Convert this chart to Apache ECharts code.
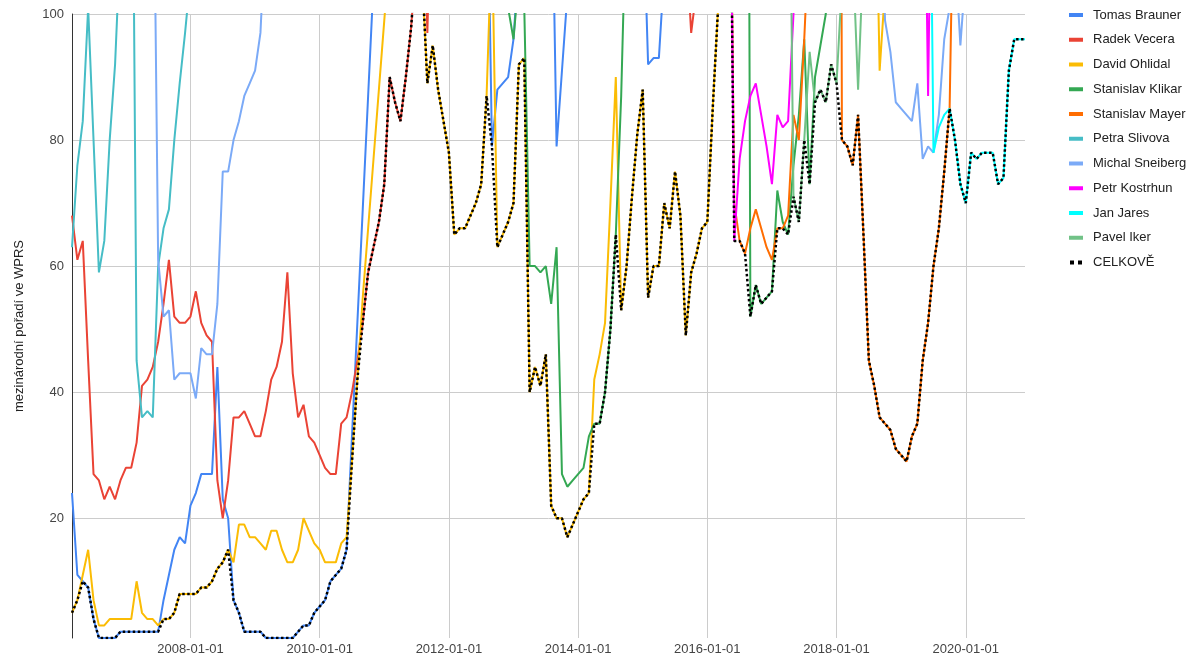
<!DOCTYPE html>
<html>
<head>
<meta charset="utf-8">
<script src="https://cdn.jsdelivr.net/npm/echarts@6/dist/echarts.min.js"></script>
<style>html,body{margin:0;padding:0;background:#fff}#chart{width:1196px;height:659px}</style>
</head>
<body>
<div id="chart"></div>
<script>
// ---- data ----
const startMonth = '2006-03';
const endMonth = '2020-12';
const xTickLabels = ['2008-01-01', '2010-01-01', '2012-01-01', '2014-01-01', '2016-01-01', '2018-01-01', '2020-01-01'];
const yTickValues = [20, 40, 60, 80, 100];
const yAxisTitle = 'mezinárodní pořadí ve WPRS';

// each series: list of [first month, monthly values]; values above 100 run off the top of the chart
const tomasBrauner = [
  ['2006-03', [24,11,10,9,4,1,1,1,1,2, 2,2,2,2,2,2,2,7,11,15, 17,16,22,24,27,27,27,44,23,20, 7,5,2,2,2,2,1,1,1,1, 1,1,2,3,3,5,6,7,10,11, 12,15,33,51,69,87,105]],
  ['2012-08', [131,79,88,89,90,96,109]],
  ['2013-08', [130,79,91,103]],
  ['2015-01', [120,92,93,93,107]]
];
const radekVecera = [
  ['2006-03', [68,61,64,45,27,26,23,25,23,26, 28,28,32,41,42,44,48,54,61,52, 51,51,52,56,51,49,48,26,20,26, 36,36,37,35,33,33,37,42,44,48, 59,43,36,38,33,32,30,28,27,27, 35,36,40,45,51,59,63,67,73,90, 86,83,90,98,110,130,97,130]],
  ['2015-09', [112,97,104]]
];
const davidOhlidal = [
  ['2006-03', [5,7,11,15,7,3,3,4,4,4, 4,4,10,5,4,4,3,4,4,5, 8,8,8,8,9,9,10,12,13,15, 13,19,19,17,17,16,15,18,18,15, 13,13,15,20,18,16,15,13,13,13, 16,17,29,42,55,66,77,88,99,110]],
  ['2011-08', [107,89,95,88,83, 78,65,66,66,68,70,73,87,113,63, 65,67,70,92,93,40,44,41,46,22, 20,20,17,19,21,23,24,42,46,51, 70,90,53,60,71,81,88,55,60,60, 70,66,75,68,49,59,62,66,67,85, 101,130]],
  ['2018-08', [136,91,104]]
];
const stanislavKlikar = [
  ['2012-12', [101,96,106]],
  ['2013-03', [101,60,60,59,60,54,63,27,25,26,27,28,33,35,35,40,50,65,87,120]],
  ['2016-08', [300,52,57,54,55,56,72,67,65,76,84,96,73,90,95,100,110]]
];
const stanislavMayer = [
  ['2016-05', [150,70,64,62,66,69,66,63,61,66,66,68,84,80,96,115]],
  ['2018-01', [400,80,79,76,84,65,45,41,36,35,34,31,30,29,33,35,45,51,60,66,75,85,135]]
];
const petraSlivova = [
  ['2006-03', [63,76,83,101,80,59,64,80,92,112,130,160,45,36,37,36,60,66,69,80,89,97,106]]
];
const michalSneiberg = [
  ['2007-06', [139,61,52,53,42,43,43,43,39,47,46,46,54,75,75,80,83,87,89,91,97,115]],
  ['2018-09', [130,99,94,86,85,84,83,89,77,79,78,84,96,101,110,95,107]]
];
const petrKostrhun = [
  ['2016-05', [150,64,77,83,87,89,84,79,73,84,82,83,100,140]],
  ['2019-05', [150,87,150]]
];
const janJares = [
  ['2019-06', [160,78,82,84,85,80,73,70,78,77,78,78,78,73,74,91,96,96,96]]
];
const pavelIker = [
  ['2017-04', [150,71,67,80,94,86,88,86,92,89,105]],
  ['2018-04', [110,88,110]]
];
const celkove = [
  ['2006-03', [5,7,10,9,4,1,1,1,1,2, 2,2,2,2,2,2,2,4,4,5, 8,8,8,8,9,9,10,12,13,15, 7,5,2,2,2,2,1,1,1,1,
    1,1,2,3,3,5,6,7,10,11, 12,15,29,42,51,59,63,67,73,90, 86,83,90,98,110,107,89,95,88,83,
    78,65,66,66,68,70,73,87,79,63, 65,67,70,92,93,40,44,41,46,22, 20,20,17,19,21,23,24,35,35,40,
    50,65,53,60,71,81,88,55,60,60, 70,66,75,68,49,59,62,66,67,85, 101,130,150,64,64,62,52,57,54,55,
    56,66,66,65,71,67,80,73,86,88, 86,92,89,80,79,76,84,65,45,41, 36,35,34,31,30,29,33,35,45,51,
    60,66,75,85,80,73,70,78,77,78, 78,78,73,74,91,96,96,96]]
];

const seriesNames = ['Tomas Brauner', 'Radek Vecera', 'David Ohlidal', 'Stanislav Klikar', 'Stanislav Mayer',
  'Petra Slivova', 'Michal Sneiberg', 'Petr Kostrhun', 'Jan Jares', 'Pavel Iker', 'CELKOVĚ'];
const seriesData = [tomasBrauner, radekVecera, davidOhlidal, stanislavKlikar, stanislavMayer,
  petraSlivova, michalSneiberg, petrKostrhun, janJares, pavelIker, celkove];
const seriesColors = ['#4285F4', '#EA4335', '#FBBC04', '#34A853', '#FF6D01',
  '#46BDC6', '#7BAAF7', '#FF00FF', '#00FFFF', '#71C287', '#000000'];

// ---- build ----
function parseYM(s) { const p = s.split('-'); return [+p[0], +p[1]]; }
function buildMonths(a, b) {
  const out = [];
  let [y, m] = parseYM(a);
  const [y1, m1] = parseYM(b);
  while (y < y1 || (y === y1 && m <= m1)) {
    out.push(y + '-' + String(m).padStart(2, '0') + '-01');
    m++; if (m > 12) { m = 1; y++; }
  }
  return out;
}
const categories = buildMonths(startMonth, endMonth);
const [y0, m0] = parseYM(startMonth);
function expand(segments) {
  const arr = new Array(categories.length).fill(null);
  segments.forEach(([start, vals]) => {
    const [y, m] = parseYM(start);
    const idx = (y - y0) * 12 + (m - m0);
    vals.forEach((v, k) => { arr[idx + k] = v; });
  });
  return arr;
}

const FONT = 'Arial, "Liberation Sans", sans-serif';
const isTick = (idx, val) => xTickLabels.indexOf(val) >= 0;

const series = seriesNames.map((name, i) => {
  const last = i === seriesNames.length - 1;
  return {
    name: name,
    type: 'line',
    data: expand(seriesData[i]),
    showSymbol: false,
    symbol: 'none',
    connectNulls: false,
    clip: true,
    z: last ? 5 : 2,
    color: seriesColors[i],
    itemStyle: { color: seriesColors[i] },
    lineStyle: last ? { color: '#000', width: 2.5, type: [2.5, 2.5] } : { color: seriesColors[i], width: 2 },
    emphasis: { disabled: true }
  };
});

const chart = echarts.init(document.getElementById('chart'), null, { renderer: 'canvas' });
chart.setOption({
  animation: false,
  textStyle: { fontFamily: FONT },
  grid: { left: 72, right: 171, top: 14, bottom: 21, containLabel: false },
  legend: {
    orient: 'vertical',
    left: 1064,
    top: 2,
    itemWidth: 14,
    itemHeight: 4,
    itemGap: 8.75,
    selectedMode: false,
    textStyle: { fontSize: 13, color: '#222', fontFamily: FONT, lineHeight: 16, padding: [0, 0, 0, 5] },
    data: seriesNames.map((n, i) => ({
      name: n,
      icon: i === seriesNames.length - 1 ? 'path://M0,0H4V4H0ZM8,0H12V4H8Z' : 'rect'
    }))
  },
  xAxis: {
    type: 'category',
    data: categories,
    boundaryGap: false,
    axisLine: { show: false },
    axisTick: { show: false },
    axisLabel: { interval: isTick, color: '#444', fontSize: 13, margin: 5, fontFamily: FONT },
    splitLine: { show: true, interval: isTick, lineStyle: { color: '#ccc', width: 1 } }
  },
  yAxis: {
    type: 'value',
    min: 1,
    max: 100,
    name: yAxisTitle,
    nameLocation: 'middle',
    nameGap: 46,
    nameRotate: 90,
    nameTextStyle: { fontSize: 13, color: '#222', fontFamily: FONT },
    axisLine: { show: true, lineStyle: { color: '#333', width: 1 } },
    axisTick: { show: false, customValues: yTickValues },
    axisLabel: { customValues: yTickValues, color: '#444', fontSize: 13, margin: 8, fontFamily: FONT },
    splitLine: { show: true, lineStyle: { color: '#ccc', width: 1 } }
  },
  series: series
});
</script>
</body>
</html>
